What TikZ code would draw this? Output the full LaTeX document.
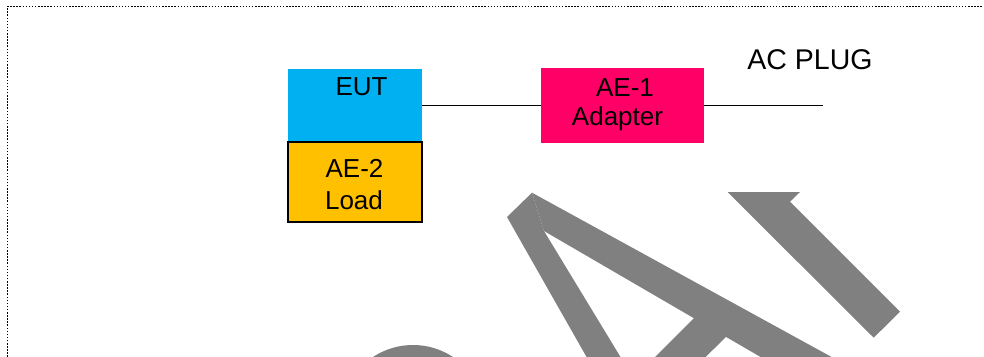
\documentclass[tikz,border=0pt]{standalone}
\usepackage{fontspec}
\setmainfont{Liberation Sans}
\definecolor{eutblue}{HTML}{00B0F0}
\definecolor{loadorange}{HTML}{FFC000}
\definecolor{adapterpink}{HTML}{FF0066}
\definecolor{wmgrey}{HTML}{808080}
\begin{document}
\begin{tikzpicture}[x=1pt,y=-1pt,
  box/.style={rectangle,inner sep=0pt,outer sep=0pt},
  lbl/.style={anchor=base,inner sep=0pt,font=\fontsize{26}{30}\selectfont},
  wire/.style={line width=1.3pt,black},
  wm/.style={fill=wmgrey,draw=none},
  frame/.style={line width=1.5pt,dash pattern=on 1.5pt off 1.6pt}]
\useasboundingbox (0,0) rectangle (984,356);
% watermark
\begin{scope}
\clip (0,0) rectangle (984,356);
\fill[wm] (532,192.7) -- (507,217) -- (611,400) -- (646.6,400) -- (544,231) -- cycle;
\fill[wm] (532,192.7) -- (910,400) -- (834.5,400) -- (544,231) -- cycle;
\fill[wm] (700,312) -- (732,331) -- (662,400) -- (612,400) -- cycle;
\fill[wm] (727.5,192) -- (800,192) -- (790,201.7) -- (900,311.7) -- (873.7,337.7) -- cycle;
\fill[wm] (413,417.5) circle[radius=72.5];
\end{scope}
% frame
\coordinate (fbl) at (7.3,360);
\coordinate (ftl) at (7.3,6.3);
\coordinate (ftr) at (983,6.3);
\draw[frame] (fbl) -- (ftl) -- (ftr);
% boxes
\node[box,fill=eutblue,minimum width=134pt,minimum height=74pt] (eut) at (355,105.5) {};
\node[box,fill=loadorange,draw=black,line width=1.2pt,minimum width=134pt,minimum height=80pt] (load) at (355,182) {};
\node[box,fill=adapterpink,minimum width=163pt,minimum height=75pt] (adapter) at (622.5,105.5) {};
% labels
\node[lbl] (eutt) at (361.5,95.7) {EUT};
\node[lbl] (loadt1) at (354.5,177.7) {AE-2};
\node[lbl] (loadt2) at (354,209) {Load};
\node[lbl] (adt1) at (625,96.7) {AE-1};
\node[lbl] (adt2) at (617.5,125) {Adapter};
\node[lbl,font=\fontsize{28.5}{32}\selectfont] (plug) at (810,69) {AC PLUG};
% wires
\coordinate (plugend) at (823,105.5);
\draw[wire] (eut.east) -- (adapter.west);
\draw[wire] (adapter.east) -- (plugend);
\end{tikzpicture}
\end{document}
